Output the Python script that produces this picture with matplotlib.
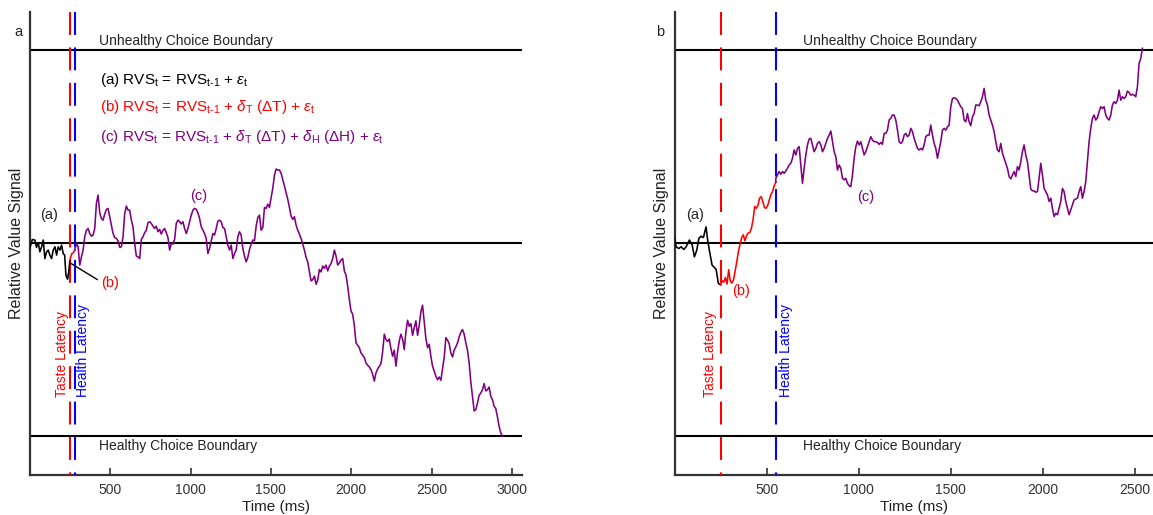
import numpy as np
import matplotlib
matplotlib.use("Agg")
import matplotlib.pyplot as plt

plt.rcParams['font.family'] = ['Liberation Sans', 'DejaVu Sans']
plt.rcParams['mathtext.fontset'] = 'custom'
plt.rcParams['mathtext.rm'] = 'Liberation Sans'
plt.rcParams['mathtext.it'] = 'Liberation Sans:italic'
plt.rcParams['mathtext.bf'] = 'Liberation Sans:bold'

# ---------------- data ----------------
boundary = 1.0
taste_latency_a = 250
health_latency_a = 280
decision_time_a = 2940
taste_latency_b = 250
health_latency_b = 550
decision_time_b = 2540

# Panel a
a_black_time = [0, 16, 32, 42, 53, 63, 74, 84, 94, 105, 115, 125, 136, 146, 157,
                167, 177, 188, 198, 208, 217, 225, 235, 244, 250]
a_black_value = [-0.028, 0.019, 0.016, -0.022, 0.002, -0.045, -0.019, 0.016, -0.080,
                 -0.045, -0.036, -0.062, -0.080, -0.036, -0.019, -0.062, -0.019,
                 -0.036, -0.010, -0.054, -0.062, -0.166, -0.187, -0.140, -0.088]
a_red_time = [250, 256, 262, 271, 280]
a_red_value = [-0.088, -0.068, -0.054, -0.050, -0.036]
a_purple_value = [
    -0.036, -0.002, -0.019, -0.114, -0.071, -0.036, 0.033, 0.067, 0.076, 0.050,
    0.036, 0.042, 0.076, 0.206, 0.249, 0.157, 0.128, 0.119, 0.151, 0.175,
    0.180, 0.137, 0.093, 0.050, 0.029, 0.024, 0.012, -0.022, -0.019, 0.033,
    0.154, 0.192, 0.171, 0.171, 0.119, 0.085, -0.002, -0.067, -0.071, -0.080,
    0.019, 0.033, 0.054, 0.067, 0.106, 0.111, 0.102, 0.088, 0.076, 0.088,
    0.059, 0.071, 0.047, 0.067, 0.076, 0.054, 0.029, -0.036, -0.002, -0.005,
    0.019, 0.102, 0.119, 0.111, 0.099, 0.111, 0.076, 0.050, 0.076, 0.111,
    0.145, 0.171, 0.180, 0.175, 0.157, 0.128, 0.085, 0.067, 0.050, 0.024,
    -0.054, -0.028, 0.012, 0.050, 0.042, 0.076, 0.114, 0.119, 0.111, 0.081,
    0.076, 0.033, -0.010, -0.036, -0.010, -0.080, -0.054, -0.036, 0.033, 0.059,
    0.042, -0.028, -0.067, -0.097, -0.074, -0.033, -0.005, 0.016, 0.012, 0.088,
    0.133, 0.145, 0.067, 0.081, 0.185, 0.180, 0.202, 0.185, 0.237, 0.284,
    0.353, 0.384, 0.379, 0.379, 0.362, 0.330, 0.296, 0.261, 0.227, 0.185,
    0.140, 0.123, 0.137, 0.093, 0.067, 0.047, 0.024, -0.005, -0.036, -0.074,
    -0.097, -0.149, -0.196, -0.189, -0.171, -0.213, -0.192, -0.137, -0.149, -0.119,
    -0.131, -0.114, -0.144, -0.119, -0.106, -0.080, -0.036, -0.067, -0.114, -0.102,
    -0.088, -0.080, -0.144, -0.166, -0.223, -0.292, -0.351, -0.369, -0.426, -0.517,
    -0.529, -0.542, -0.569, -0.581, -0.593, -0.621, -0.633, -0.642, -0.656, -0.680,
    -0.715, -0.673, -0.652, -0.638, -0.625, -0.564, -0.472, -0.500, -0.510, -0.497,
    -0.547, -0.587, -0.555, -0.638, -0.564, -0.507, -0.472, -0.497, -0.552, -0.460,
    -0.400, -0.431, -0.417, -0.478, -0.438, -0.403, -0.478, -0.426, -0.356, -0.322,
    -0.408, -0.495, -0.542, -0.524, -0.587, -0.638, -0.663, -0.690, -0.708, -0.694,
    -0.711, -0.651, -0.593, -0.490, -0.503, -0.521, -0.569, -0.590, -0.555, -0.538,
    -0.517, -0.486, -0.462, -0.448, -0.472, -0.517, -0.555, -0.621, -0.720, -0.794,
    -0.870, -0.863, -0.829, -0.789, -0.777, -0.760, -0.728, -0.766, -0.760, -0.746,
    -0.794, -0.811, -0.846, -0.858, -0.901, -0.950, -0.984, -1.000]

# Panel b
b_black_time = [0, 9, 23, 36, 50, 63, 81, 96, 108, 121, 132, 144, 157, 171, 180,
                189, 204, 216, 226, 238, 250]
b_black_value = [0.030, -0.019, -0.028, -0.019, -0.033, -0.019, 0.016, -0.010, -0.071,
                 -0.036, 0.024, 0.036, 0.029, 0.084, 0.016, -0.036, -0.114, -0.126,
                 -0.136, -0.209, -0.216]
b_red_value = [-0.216, -0.195, -0.202, -0.178, -0.212, -0.138, -0.198, -0.207, -0.190,
               -0.143, -0.095, -0.043, -0.005, 0.029, 0.043, 0.012, 0.040, 0.052,
               0.055, 0.078, 0.121, 0.190, 0.181, 0.195, 0.233, 0.241, 0.216, 0.184,
               0.181, 0.195, 0.224, 0.253, 0.267, 0.298, 0.316]
b_purple_value = [
    0.336, 0.353, 0.371, 0.357, 0.371, 0.362, 0.374, 0.388, 0.405, 0.414,
    0.440, 0.483, 0.457, 0.491, 0.500, 0.405, 0.310, 0.388, 0.457, 0.509,
    0.540, 0.543, 0.509, 0.474, 0.491, 0.517, 0.526, 0.509, 0.474, 0.491,
    0.517, 0.543, 0.560, 0.581, 0.526, 0.474, 0.448, 0.379, 0.405, 0.388,
    0.336, 0.328, 0.336, 0.310, 0.298, 0.293, 0.353, 0.440, 0.500, 0.529,
    0.509, 0.526, 0.491, 0.457, 0.474, 0.500, 0.526, 0.552, 0.534, 0.526,
    0.526, 0.522, 0.512, 0.522, 0.512, 0.569, 0.569, 0.586, 0.638, 0.647,
    0.664, 0.664, 0.638, 0.586, 0.526, 0.517, 0.526, 0.560, 0.569, 0.552,
    0.560, 0.595, 0.578, 0.543, 0.517, 0.491, 0.483, 0.491, 0.483, 0.509,
    0.552, 0.560, 0.560, 0.612, 0.560, 0.517, 0.491, 0.440, 0.483, 0.526,
    0.586, 0.595, 0.586, 0.603, 0.612, 0.707, 0.750, 0.753, 0.750, 0.741,
    0.724, 0.707, 0.698, 0.638, 0.629, 0.672, 0.629, 0.609, 0.655, 0.672,
    0.716, 0.716, 0.712, 0.733, 0.759, 0.802, 0.741, 0.716, 0.664, 0.638,
    0.612, 0.578, 0.526, 0.483, 0.474, 0.517, 0.466, 0.440, 0.414, 0.388,
    0.345, 0.333, 0.353, 0.371, 0.345, 0.397, 0.379, 0.422, 0.474, 0.509,
    0.457, 0.422, 0.353, 0.281, 0.271, 0.271, 0.264, 0.267, 0.336, 0.414,
    0.353, 0.284, 0.267, 0.250, 0.216, 0.233, 0.181, 0.138, 0.155, 0.147,
    0.181, 0.216, 0.284, 0.267, 0.216, 0.181, 0.147, 0.172, 0.198, 0.224,
    0.229, 0.233, 0.267, 0.293, 0.233, 0.267, 0.319, 0.422, 0.526, 0.595,
    0.647, 0.664, 0.638, 0.650, 0.681, 0.707, 0.698, 0.707, 0.664, 0.647,
    0.638, 0.664, 0.716, 0.733, 0.724, 0.741, 0.793, 0.741, 0.759, 0.750,
    0.759, 0.788, 0.781, 0.767, 0.771, 0.767, 0.759, 0.810, 0.931, 0.957,
    1.010]

xticks_a = [500, 1000, 1500, 2000, 2500, 3000]
xticks_b = [500, 1000, 1500, 2000, 2500]

eq_a = r'(a) RVS$_{\mathrm{t}}$ = RVS$_{\mathrm{t\text{-}1}}$ + $\epsilon_{\mathrm{t}}$'
eq_b = (r'(b) RVS$_{\mathrm{t}}$ = RVS$_{\mathrm{t\text{-}1}}$ + $\delta_{\mathrm{T}}$ '
        r'($\Delta$T) + $\epsilon_{\mathrm{t}}$')
eq_c = (r'(c) RVS$_{\mathrm{t}}$ = RVS$_{\mathrm{t\text{-}1}}$ + $\delta_{\mathrm{T}}$ '
        r'($\Delta$T) + $\delta_{\mathrm{H}}$ ($\Delta$H) + $\epsilon_{\mathrm{t}}$')

# ---------------- figure ----------------
PURPLE = '#800080'
TXT = '#222222'
fig = plt.figure(figsize=(11.53, 5.15), dpi=100)
ax_a = fig.add_axes([0.0258, 0.0784, 0.4267, 0.899])
ax_b = fig.add_axes([0.585, 0.0784, 0.4154, 0.899])


def style_axes(ax, xmax, xticks):
    ax.set_xlim(0, xmax)
    ax.set_ylim(-1.2, 1.2)
    for s in ['top', 'right']:
        ax.spines[s].set_visible(False)
    for s in ['left', 'bottom']:
        ax.spines[s].set_linewidth(1.6)
        ax.spines[s].set_color('#333333')
    ax.set_yticks([])
    ax.set_xticks(xticks)
    ax.set_xticklabels([str(t) for t in xticks])
    ax.tick_params(axis='x', direction='in', length=5, width=1.2, colors='#333333',
                   labelsize=10, pad=6, labelcolor='#333333')
    ax.set_xlabel('Time (ms)', fontsize=11, color=TXT, labelpad=2)
    ax.set_ylabel('Relative Value Signal', fontsize=11.5, color=TXT, labelpad=4)
    for yv in [boundary, 0, -boundary]:
        ax.axhline(yv, color='black', lw=1.5, zorder=2)


def latency_line(ax, t, color):
    ax.plot([t, t], [1.2, -1.2], color=color, lw=1.5, ls=(0, (11, 6)), zorder=3,
            clip_on=False)


style_axes(ax_a, 3060, xticks_a)
style_axes(ax_b, 2600, xticks_b)

# panel a
latency_line(ax_a, taste_latency_a, 'red')
latency_line(ax_a, health_latency_a, 'blue')
ax_a.plot(a_black_time, a_black_value, color='black', lw=1.15, zorder=4)
ax_a.plot(a_red_time, a_red_value, color='red', lw=1.15, zorder=4)
a_purple_time = np.linspace(health_latency_a, decision_time_a, len(a_purple_value))
ax_a.plot(a_purple_time, a_purple_value, color=PURPLE, lw=1.15, zorder=4)

ax_a.text(432, 1.048, 'Unhealthy Choice Boundary', fontsize=10, color=TXT, va='center')
ax_a.text(432, -1.05, 'Healthy Choice Boundary', fontsize=10, color=TXT, va='center')
ax_a.text(438, 0.845, eq_a, fontsize=11, color='black', va='center')
ax_a.text(438, 0.705, eq_b, fontsize=11, color='red', va='center')
ax_a.text(438, 0.549, eq_c, fontsize=11, color=PURPLE, va='center')
ax_a.text(121, 0.145, '(a)', fontsize=10.5, color=TXT, ha='center', va='center')
ax_a.text(1048, 0.244, '(c)', fontsize=10.5, color=PURPLE, ha='center', va='center')
ax_a.annotate('(b)', xy=(256, -0.105), xytext=(445, -0.209), fontsize=10.5, color='red',
              ha='left', va='center',
              arrowprops=dict(arrowstyle='-', color='black', lw=1, shrinkA=1, shrinkB=0,
                              relpos=(0, 0.6)))
ax_a.text(200, -0.80, 'Taste Latency', fontsize=10, color='red', rotation=90,
          ha='center', va='bottom')
ax_a.text(331, -0.80, 'Health Latency', fontsize=10, color='blue', rotation=90,
          ha='center', va='bottom')

# panel b
latency_line(ax_b, taste_latency_b, 'red')
latency_line(ax_b, health_latency_b, 'blue')
ax_b.plot(b_black_time, b_black_value, color='black', lw=1.15, zorder=4)
b_red_time = np.linspace(taste_latency_b, health_latency_b, len(b_red_value))
ax_b.plot(b_red_time, b_red_value, color='red', lw=1.15, zorder=4)
b_purple_time = np.linspace(health_latency_b, decision_time_b, len(b_purple_value))
ax_b.plot(np.r_[b_red_time[-1], b_purple_time], np.r_[b_red_value[-1], b_purple_value],
          color=PURPLE, lw=1.15, zorder=4, clip_on=False)

ax_b.text(695, 1.048, 'Unhealthy Choice Boundary', fontsize=10, color=TXT, va='center')
ax_b.text(695, -1.05, 'Healthy Choice Boundary', fontsize=10, color=TXT, va='center')
ax_b.text(111, 0.145, '(a)', fontsize=10.5, color=TXT, ha='center', va='center')
ax_b.text(362, -0.247, '(b)', fontsize=10.5, color='red', ha='center', va='center')
ax_b.text(1039, 0.24, '(c)', fontsize=10.5, color=PURPLE, ha='center', va='center')
ax_b.text(195, -0.80, 'Taste Latency', fontsize=10, color='red', rotation=90,
          ha='center', va='bottom')
ax_b.text(605, -0.80, 'Health Latency', fontsize=10, color='blue', rotation=90,
          ha='center', va='bottom')

fig.text(0.0156, 0.938, 'a', fontsize=10.5, color=TXT, ha='center', va='center')
fig.text(0.5724, 0.938, 'b', fontsize=10.5, color=TXT, ha='center', va='center')

fig.savefig('out.png', dpi=100)
